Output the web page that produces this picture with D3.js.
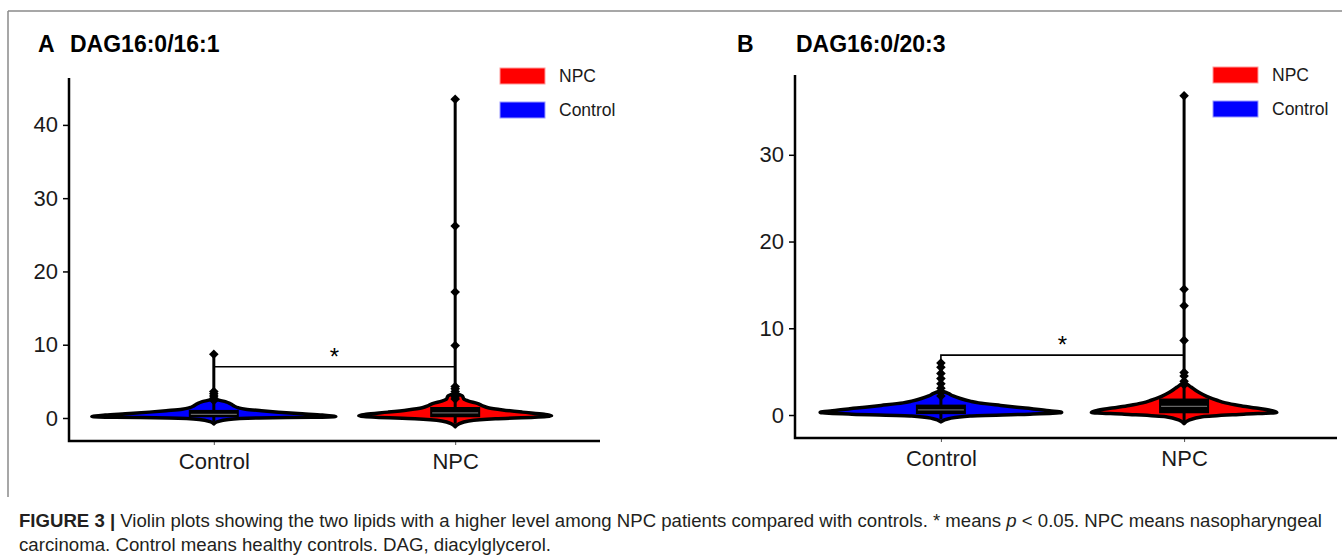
<!DOCTYPE html>
<html>
<head>
<meta charset="utf-8">
<script src="https://cdn.jsdelivr.net/npm/d3@7.9.0/dist/d3.min.js"></script>
<style>
  body { margin: 0; background: #fff; }
  svg { display: block; font-family: "Liberation Sans", Arial, sans-serif; }
</style>
</head>
<body>
<svg id="chart" width="1342" height="560"></svg>
<script>
// groups + legend
const groups = ['Control', 'NPC'];
const legendLabels = ['NPC', 'Control'];
const groupColors = ['#0000ff', '#ff0000'];

// panel A : DAG16:0/16:1
const ticksA = [0, 10, 20, 30, 40];
const aControlLevels = [-0.8, -0.5, -0.2, 0.0, 0.1, 0.2, 0.4, 0.6, 0.8, 1.0, 1.2, 1.4, 1.6, 1.8, 2.0, 2.2, 2.4, 2.6];
const aControlDensity = [0, 0.03, 0.12, 0.37, 0.81, 1, 0.89, 0.69, 0.53, 0.39, 0.26, 0.2, 0.17, 0.15, 0.13, 0.1, 0.05, 0];
const aControlBox = [-0.5, 0.1, 0.5, 1.1];   // min, q1, median, q3
const aControlOutliers = [8.7, 3.6, 3.3, 3.0, 2.7, 2.4];

const aNpcLevels = [-1.2, -0.8, -0.4, -0.1, 0.1, 0.3, 0.5, 0.8, 1.1, 1.4, 1.7, 2.0, 2.3, 2.6, 3.0, 3.4];
const aNpcDensity = [0, 0.03, 0.11, 0.33, 0.65, 0.79, 0.73, 0.55, 0.39, 0.27, 0.22, 0.18, 0.11, 0.07, 0.06, 0];
const aNpcBox = [-0.8, 0.1, 0.7, 1.5];
const aNpcOutliers = [43.5, 26.2, 17.2, 9.9, 4.3, 4.0, 3.6, 3.2, 2.9, 2.6];
const aSignif = 7.0;

// panel B : DAG16:0/20:3
const ticksB = [0, 10, 20, 30];
const bControlLevels = [-0.8, -0.4, -0.1, 0.1, 0.3, 0.5, 0.8, 1.1, 1.4, 1.6, 1.9, 2.2, 2.5, 2.8];
const bControlDensity = [0, 0.07, 0.24, 0.73, 0.99, 0.89, 0.69, 0.49, 0.31, 0.24, 0.16, 0.1, 0.06, 0];
const bControlBox = [-0.5, 0.1, 0.6, 1.2];
const bControlOutliers = [6.0, 5.5, 4.8, 4.2, 3.6, 3.1, 2.6, 2.2];

const bNpcLevels = [-1.0, -0.6, -0.2, 0.1, 0.3, 0.5, 0.8, 1.1, 1.4, 1.7, 2.0, 2.4, 2.8, 3.2, 3.6, 4.0];
const bNpcDensity = [0, 0.04, 0.15, 0.49, 0.76, 0.72, 0.59, 0.45, 0.34, 0.27, 0.21, 0.15, 0.1, 0.06, 0.02, 0];
const bNpcBox = [-0.8, 0.2, 1.0, 1.9];
const bNpcOutliers = [36.8, 14.5, 12.6, 8.6, 4.9, 4.5, 3.9, 3.5];
const bSignif = 6.9;

const svg = d3.select('#chart');

// figure frame (top + left grey rule)
svg.append('line').attr('x1', 8).attr('x2', 1342).attr('y1', 11).attr('y2', 11)
  .attr('stroke', '#8a8a8a').attr('stroke-width', 1.5);
svg.append('line').attr('x1', 8).attr('x2', 8).attr('y1', 11).attr('y2', 497)
  .attr('stroke', '#8a8a8a').attr('stroke-width', 1.5);

const widthScale = d3.scaleLinear().domain([0, 1]).range([0, 122]);

function drawPanel(p) {
  const g = svg.append('g');
  const y = d3.scaleLinear().domain(p.yDomain).range([p.bottom, p.top]);
  const x = d3.scalePoint().domain(groups).range([p.left, p.xEnd]).padding(0.6);

  // title
  g.append('text').attr('x', p.letterX).attr('y', 52)
    .attr('font-size', 23).attr('font-weight', 'bold').text(p.letter);
  g.append('text').attr('x', p.left + 1).attr('y', 52)
    .attr('font-size', 23).attr('font-weight', 'bold').text(p.title);

  // y axis
  const yAxis = d3.axisLeft(y).tickValues(p.ticks).tickSize(6).tickPadding(5);
  const ya = g.append('g').attr('transform', `translate(${p.left},0)`).call(yAxis);
  ya.select('.domain').remove();
  ya.selectAll('.tick line').attr('stroke', '#000').attr('stroke-width', 1.5);
  ya.selectAll('.tick text').attr('font-size', 22).attr('fill', '#1a1a1a')
    .attr('font-family', '"Liberation Sans", Arial, sans-serif');

  // x axis ticks / labels
  const xAxis = d3.axisBottom(x).tickSize(4).tickPadding(8);
  const xa = g.append('g').attr('transform', `translate(0,${p.bottom})`).call(xAxis);
  xa.select('.domain').remove();
  xa.selectAll('.tick line').attr('stroke', '#555').attr('stroke-width', 1);
  xa.selectAll('.tick text').attr('font-size', 22).attr('fill', '#1a1a1a')
    .attr('font-family', '"Liberation Sans", Arial, sans-serif');

  // axis lines
  g.append('path')
    .attr('d', `M${p.left},${p.top}V${p.bottom}H${p.right}`)
    .attr('fill', 'none').attr('stroke', '#000').attr('stroke-width', 2.5);

  // violins
  p.series.forEach((s, i) => {
    const cx = x(groups[i]);
    const pts = s.levels.map((v, k) => [v, s.density[k]]);
    const area = d3.area()
      .y(d => y(d[0]))
      .x0(d => cx - widthScale(d[1]))
      .x1(d => cx + widthScale(d[1]))
      .curve(d3.curveMonotoneY);
    g.append('path').attr('d', area(pts))
      .attr('fill', groupColors[i]).attr('stroke', '#000')
      .attr('stroke-width', 3.5).attr('stroke-linejoin', 'round');

    // range line
    const top = d3.max(s.outliers);
    g.append('line').attr('x1', cx).attr('x2', cx)
      .attr('y1', y(s.box[0])).attr('y2', y(top))
      .attr('stroke', '#000').attr('stroke-width', 3);

    // box
    g.append('rect').attr('x', cx - 25).attr('width', 50)
      .attr('y', y(s.box[3])).attr('height', y(s.box[1]) - y(s.box[3]))
      .attr('fill', '#000');
    g.append('line').attr('x1', cx - 23).attr('x2', cx + 23)
      .attr('y1', y(s.box[2])).attr('y2', y(s.box[2]))
      .attr('stroke', '#666').attr('stroke-width', 1.2);

    // outliers
    g.selectAll(null).data(s.outliers).join('path')
      .attr('d', d3.symbol(d3.symbolSquare, 46))
      .attr('transform', d => `translate(${cx},${y(d)}) rotate(45)`)
      .attr('fill', '#000');
  });

  // significance bracket
  const c0 = x(groups[0]), c1 = x(groups[1]);
  const ys = y(p.signif);
  g.append('path')
    .attr('d', `M${c0},${y(d3.max(p.series[0].outliers))}V${ys}H${c1}`)
    .attr('fill', 'none').attr('stroke', '#000').attr('stroke-width', 1.6);
  g.append('text').attr('x', (c0 + c1) / 2).attr('y', ys - 2)
    .attr('text-anchor', 'middle').attr('font-size', 24).text('*');

  // legend
  legendLabels.forEach((lab, k) => {
    const ly = p.legendY + k * 34;
    g.append('rect').attr('x', p.legendX).attr('y', ly)
      .attr('width', 45).attr('height', 16)
      .attr('fill', lab === 'NPC' ? groupColors[1] : groupColors[0])
      .attr('stroke', lab === 'NPC' ? '#ff9a9a' : '#9a9aff').attr('stroke-width', 1);
    g.append('text').attr('x', p.legendX + 59).attr('y', ly + 14)
      .attr('font-size', 17.5).attr('fill', '#1a1a1a').text(lab);
  });
}

drawPanel({
  letter: 'A', letterX: 38, title: 'DAG16:0/16:1',
  left: 69, right: 600, xEnd: 600, top: 78, bottom: 441,
  yDomain: [-3.14, 46.4], ticks: ticksA,
  legendX: 500, legendY: 68, signif: aSignif,
  series: [
    { levels: aControlLevels, density: aControlDensity, box: aControlBox, outliers: aControlOutliers },
    { levels: aNpcLevels, density: aNpcDensity, box: aNpcBox, outliers: aNpcOutliers }
  ]
});

drawPanel({
  letter: 'B', letterX: 737, title: 'DAG16:0/20:3',
  left: 795, right: 1337, xEnd: 1330, top: 75, bottom: 438,
  yDomain: [-2.65, 39.2], ticks: ticksB,
  legendX: 1213, legendY: 67, signif: bSignif,
  series: [
    { levels: bControlLevels, density: bControlDensity, box: bControlBox, outliers: bControlOutliers },
    { levels: bNpcLevels, density: bNpcDensity, box: bNpcBox, outliers: bNpcOutliers }
  ]
});

// caption
const cap = svg.append('text').attr('x', 19).attr('y', 527)
  .attr('font-size', 17.5).attr('fill', '#231f20')
  .attr('textLength', 1303).attr('lengthAdjust', 'spacingAndGlyphs');
cap.append('tspan').attr('font-weight', 'bold').text('FIGURE 3 | ');
cap.append('tspan').text('Violin plots showing the two lipids with a higher level among NPC patients compared with controls. * means ');
cap.append('tspan').attr('font-style', 'italic').text('p');
cap.append('tspan').text(' < 0.05. NPC means nasopharyngeal');
svg.append('text').attr('x', 19).attr('y', 551)
  .attr('font-size', 17.5).attr('fill', '#231f20')
  .attr('textLength', 532).attr('lengthAdjust', 'spacingAndGlyphs')
  .text('carcinoma. Control means healthy controls. DAG, diacylglycerol.');
</script>
</body>
</html>
